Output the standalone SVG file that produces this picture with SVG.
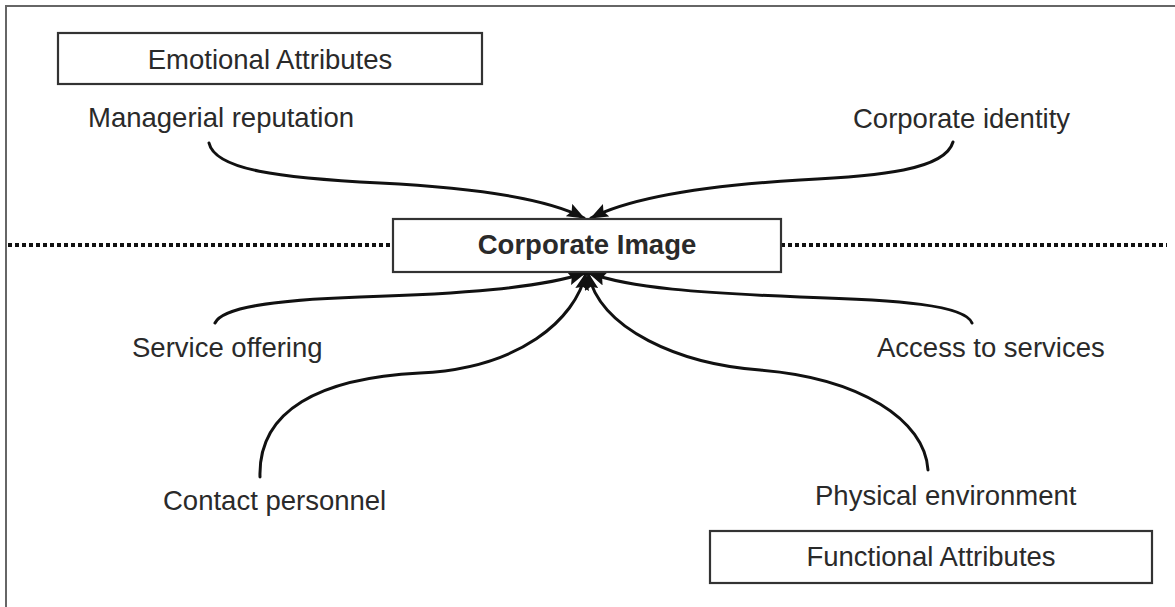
<svg xmlns="http://www.w3.org/2000/svg" width="1175" height="607" viewBox="0 0 1175 607">
<style>
.box{fill:#fff;stroke:#333;stroke-width:2.2}
.lbl{font-family:"Liberation Sans",Arial,sans-serif;font-size:27.5px;fill:#2a2a2a}
.bold{font-weight:bold}
.curve{fill:none;stroke:#111;stroke-width:3;stroke-linecap:round}
.dots{stroke:#111;stroke-width:4;stroke-dasharray:4 3}
</style>
<defs>
<marker id="ah" viewBox="0 0 18 14" refX="17" refY="7" markerWidth="18" markerHeight="14" markerUnits="userSpaceOnUse" orient="auto">
<path d="M0,0 L18,7 L0,14 L3,7 Z" fill="#111"/>
</marker>
</defs>
<rect x="6" y="6" width="1180" height="610" fill="#fff" stroke="#666" stroke-width="2"/>
<g id="divider">
<line class="dots" x1="8" y1="245" x2="393" y2="245"/>
<line class="dots" x1="781" y1="245" x2="1167" y2="245"/>
</g>
<g id="connectors">
<path class="curve" marker-end="url(#ah)" d="M209,143 C215,170 280,178 380,183 C480,188 550,200 584,218"/>
<path class="curve" marker-end="url(#ah)" d="M953,142 C945,170 880,176 800,180 C700,186 630,198 591,218"/>
<path class="curve" marker-end="url(#ah)" d="M215,323 C222,308 270,300 360,297 C460,294 540,288 585,273"/>
<path class="curve" marker-end="url(#ah)" d="M260,477 C258,410 320,378 420,373 C520,368 575,320 586,273"/>
<path class="curve" marker-end="url(#ah)" d="M972,323 C965,305 900,300 800,297 C700,293 630,288 589,273"/>
<path class="curve" marker-end="url(#ah)" d="M928,470 C925,420 860,378 760,370 C680,364 600,330 588,273"/>
</g>
<g id="emotional">
<rect class="box" x="58" y="33" width="424" height="51"/>
<text class="lbl" x="270" y="69" text-anchor="middle">Emotional Attributes</text>
</g>
<g id="managerial">
<text class="lbl" x="88" y="127">Managerial reputation</text>
</g>
<g id="identity">
<text class="lbl" x="853" y="128">Corporate identity</text>
</g>
<g id="corporate-image">
<rect class="box" x="393" y="219" width="388" height="53"/>
<text class="lbl bold" x="587" y="254" text-anchor="middle">Corporate Image</text>
</g>
<g id="service">
<text class="lbl" x="132" y="357">Service offering</text>
</g>
<g id="access">
<text class="lbl" x="877" y="357">Access to services</text>
</g>
<g id="contact">
<text class="lbl" x="163" y="510">Contact personnel</text>
</g>
<g id="physical">
<text class="lbl" x="815" y="505">Physical environment</text>
</g>
<g id="functional">
<rect class="box" x="710" y="531" width="442" height="52"/>
<text class="lbl" x="931" y="566" text-anchor="middle">Functional Attributes</text>
</g>
</svg>
